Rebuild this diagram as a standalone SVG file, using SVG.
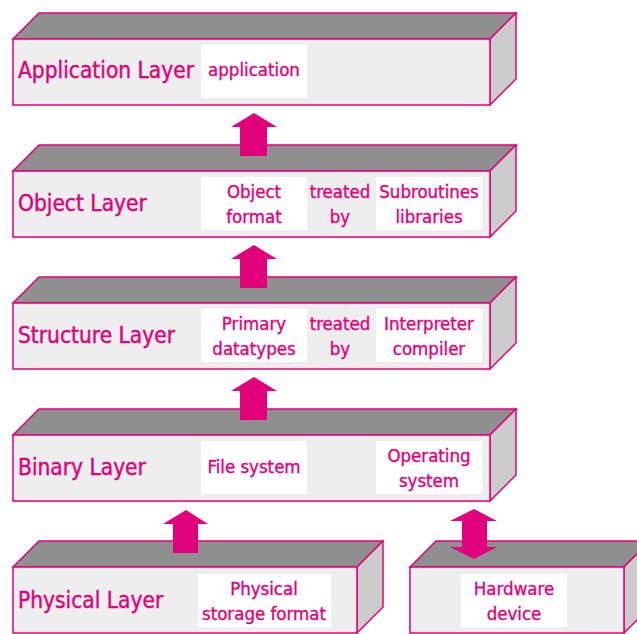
<svg xmlns="http://www.w3.org/2000/svg" width="637" height="634" viewBox="0 0 637 634">
  <style>
    .top { fill: #8f8f8f; stroke: #e2007a; stroke-width: 1.5; stroke-linejoin: miter; }
    .front { fill: #eeeeee; stroke: #e2007a; stroke-width: 1.5; }
    .side { fill: #cccccc; stroke: #e2007a; stroke-width: 1.5; stroke-linejoin: miter; }
    .pad { fill: #ffffff; }
    .layer { font-family: "DejaVu Sans Condensed", "Liberation Sans", sans-serif; font-size: 22.5px; fill: #e2007a; stroke: #e2007a; stroke-width: 0.4; }
    .item { font-family: "DejaVu Sans Condensed", "Liberation Sans", sans-serif; font-size: 18.5px; fill: #e2007a; stroke: #e2007a; stroke-width: 0.35; text-anchor: middle; }
    .arrow { fill: #e2007a; }
  </style>

  <!-- Application layer -->
  <g id="application-layer">
    <polygon class="top" points="13,39 39,13 516,13 490,39"/>
    <polygon class="side" points="490,39 516,13 516,79 490,105"/>
    <rect class="front" x="13" y="39" width="477" height="66"/>
    <rect class="pad" x="201" y="45" width="106" height="53"/>
    <text class="layer" x="18" y="78">Application Layer</text>
    <text class="item" x="254" y="76">application</text>
  </g>

  <!-- Object layer -->
  <g id="object-layer">
    <polygon class="top" points="13,171 39,145 516,145 490,171"/>
    <polygon class="side" points="490,171 516,145 516,211 490,237"/>
    <rect class="front" x="13" y="171" width="477" height="66"/>
    <rect class="pad" x="201" y="177" width="106" height="53"/>
    <rect class="pad" x="376" y="177" width="106" height="53"/>
    <text class="layer" x="18" y="211">Object Layer</text>
    <text class="item" x="254" y="198">Object</text>
    <text class="item" x="254" y="223">format</text>
    <text class="item" x="340" y="198">treated</text>
    <text class="item" x="340" y="223">by</text>
    <text class="item" x="429" y="198">Subroutines</text>
    <text class="item" x="429" y="223">libraries</text>
  </g>

  <!-- Structure layer -->
  <g id="structure-layer">
    <polygon class="top" points="13,303 39,277 516,277 490,303"/>
    <polygon class="side" points="490,303 516,277 516,343 490,369"/>
    <rect class="front" x="13" y="303" width="477" height="66"/>
    <rect class="pad" x="201" y="309" width="106" height="53"/>
    <rect class="pad" x="376" y="309" width="106" height="53"/>
    <text class="layer" x="18" y="343">Structure Layer</text>
    <text class="item" x="254" y="330">Primary</text>
    <text class="item" x="254" y="355">datatypes</text>
    <text class="item" x="340" y="330">treated</text>
    <text class="item" x="340" y="355">by</text>
    <text class="item" x="429" y="330">Interpreter</text>
    <text class="item" x="429" y="355">compiler</text>
  </g>

  <!-- Binary layer -->
  <g id="binary-layer">
    <polygon class="top" points="13,435 39,409 516,409 490,435"/>
    <polygon class="side" points="490,435 516,409 516,475 490,501"/>
    <rect class="front" x="13" y="435" width="477" height="66"/>
    <rect class="pad" x="201" y="441" width="106" height="53"/>
    <rect class="pad" x="376" y="441" width="106" height="53"/>
    <text class="layer" x="18" y="475">Binary Layer</text>
    <text class="item" x="254" y="473">File system</text>
    <text class="item" x="429" y="462">Operating</text>
    <text class="item" x="429" y="487">system</text>
  </g>

  <!-- Physical layer -->
  <g id="physical-layer">
    <polygon class="top" points="13,567 39,541 383,541 357,567"/>
    <polygon class="side" points="357,567 383,541 383,607 357,633"/>
    <rect class="front" x="13" y="567" width="344" height="66"/>
    <rect class="pad" x="198" y="574" width="133" height="53"/>
    <text class="layer" x="18" y="608">Physical Layer</text>
    <text class="item" x="264" y="595">Physical</text>
    <text class="item" x="264" y="620">storage format</text>
  </g>

  <!-- Hardware device -->
  <g id="hardware-device">
    <polygon class="top" points="410,567 436,541 650,541 624,567"/>
    <polygon class="side" points="624,567 650,541 650,607 624,633"/>
    <rect class="front" x="410" y="567" width="214" height="66"/>
    <rect class="pad" x="461" y="574" width="106" height="53"/>
    <text class="item" x="514" y="595">Hardware</text>
    <text class="item" x="514" y="620">device</text>
  </g>

  <!-- Connectors: block arrows between layers -->
  <g id="connectors">
    <polygon class="arrow" points="254,113 277,127 267,127 267,156 240,156 240,127 231,127"/>
    <polygon class="arrow" points="254,245 277,259 267,259 267,288 240,288 240,259 231,259"/>
    <polygon class="arrow" points="254,377 277,391 267,391 267,420 240,420 240,391 231,391"/>
    <polygon class="arrow" points="186,510 208,524 198,524 198,553 173,553 173,524 163,524"/>
    <polygon class="arrow" points="474,509 497,521 487,521 487,547 497,547 474,559 450,547 462,547 462,521 450,521"/>
  </g>
</svg>
